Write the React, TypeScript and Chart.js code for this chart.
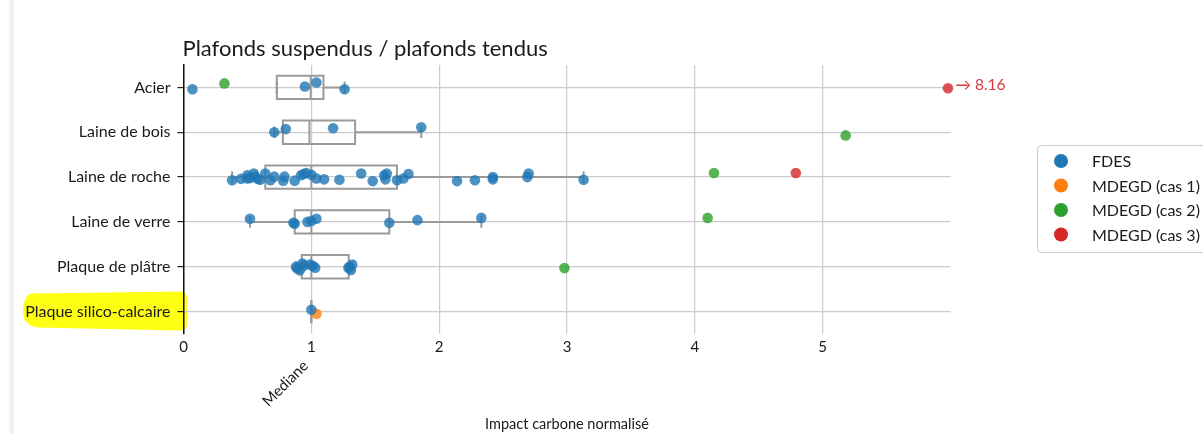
import React, { useEffect, useRef } from 'react';
import { Chart, registerables } from 'chart.js';

Chart.register(...registerables);

// ---------- data ----------
const categories = [
  'Acier',
  'Laine de bois',
  'Laine de roche',
  'Laine de verre',
  'Plaque de plâtre',
  'Plaque silico-calcaire',
];

const chartTitle = 'Plafonds suspendus / plafonds tendus';
const xAxisTitle = 'Impact carbone normalisé';
const xTickValues = [0, 1, 2, 3, 4, 5];
const xTickLabels = ['0', '1', '2', '3', '4', '5'];
const medianTickLabel = 'Mediane';
const X_MAX = 6;

const seriesNames = ['FDES', 'MDEGD (cas 1)', 'MDEGD (cas 2)', 'MDEGD (cas 3)'];
const seriesColors = ['#1f77b4', '#ff7f0e', '#2ca02c', '#d62728'];

// FDES values (normalised by median) and their strip jitter (category units)
const fdesAcier = [0.07, 0.95, 1.04, 1.26];
const fdesAcierJitter = [0.04, -0.02, -0.11, 0.04];

const fdesLaineBois = [0.71, 0.8, 1.17, 1.86];
const fdesLaineBoisJitter = [0.0, -0.07, -0.09, -0.11];

const fdesLaineRoche = [
  0.38, 0.45, 0.5, 0.5, 0.52, 0.55, 0.56, 0.58, 0.6, 0.64, 0.68, 0.71, 0.78, 0.79, 0.87, 0.92, 0.94, 0.96,
  1.0, 1.04, 1.1, 1.22, 1.39, 1.48, 1.57, 1.58, 1.59, 1.67, 1.72, 1.76, 2.14, 2.28, 2.42, 2.42, 2.69, 2.7, 3.13,
];
const fdesLaineRocheJitter = [
  0.07, 0.04, -0.04, 0.03, 0.02, -0.08, -0.01, 0.04, 0.06, -0.08, 0.07, -0.01, 0.08, -0.01, 0.08, -0.04, -0.07, -0.09,
  -0.05, 0.03, 0.05, 0.06, -0.08, 0.09, -0.04, 0.05, -0.08, 0.07, 0.03, -0.07, 0.09, 0.07, 0.0, 0.05, 0.0, -0.08, 0.06,
];

const fdesLaineVerre = [0.52, 0.86, 0.87, 0.97, 1.0, 1.04, 1.61, 1.83, 2.33];
const fdesLaineVerreJitter = [-0.07, 0.02, 0.04, 0.0, -0.02, -0.07, 0.02, -0.04, -0.09];

const fdesPlatre = [0.88, 0.89, 0.91, 0.93, 0.94, 0.99, 1.01, 1.03, 1.29, 1.3, 1.31, 1.32];
const fdesPlatreJitter = [0.0, 0.04, 0.08, -0.07, -0.02, -0.05, -0.02, 0.02, 0.02, 0.0, 0.07, -0.05];

const fdesSilico = [1.0];
const fdesSilicoJitter = [-0.04];

const fdesByCategory = [fdesAcier, fdesLaineBois, fdesLaineRoche, fdesLaineVerre, fdesPlatre, fdesSilico];
const fdesJitterByCategory = [
  fdesAcierJitter,
  fdesLaineBoisJitter,
  fdesLaineRocheJitter,
  fdesLaineVerreJitter,
  fdesPlatreJitter,
  fdesSilicoJitter,
];

// MDEGD points: category index, value, jitter
const mdegd1Category = [5];
const mdegd1Values = [1.04];
const mdegd1Jitter = [0.05];

const mdegd2Category = [0, 1, 2, 3, 4];
const mdegd2Values = [0.32, 5.18, 4.15, 4.1, 2.98];
const mdegd2Jitter = [-0.09, 0.07, -0.09, -0.09, 0.03];

const mdegd3Category = [0, 2];
const mdegd3Values = [8.16, 4.79];
const mdegd3Jitter = [0.02, -0.09];

// ---------- helpers ----------
function rgba(hex: string, a: number) {
  const n = parseInt(hex.slice(1), 16);
  return `rgba(${(n >> 16) & 255},${(n >> 8) & 255},${n & 255},${a})`;
}

function quantile(sorted: number[], p: number) {
  const pos = (sorted.length - 1) * p;
  const lo = Math.floor(pos);
  const hi = Math.ceil(pos);
  return sorted[lo] + (sorted[hi] - sorted[lo]) * (pos - lo);
}

function boxStats(values: number[]) {
  const s = [...values].sort((a, b) => a - b);
  const q1 = quantile(s, 0.25);
  const med = quantile(s, 0.5);
  const q3 = quantile(s, 0.75);
  const iqr = q3 - q1;
  const hiVals = s.filter((v) => v <= q3 + 1.5 * iqr);
  const loVals = s.filter((v) => v >= q1 - 1.5 * iqr);
  let whishi = hiVals.length ? Math.max(...hiVals) : q3;
  let whislo = loVals.length ? Math.min(...loVals) : q1;
  if (whishi < q3) whishi = q3;
  if (whislo > q1) whislo = q1;
  return { q1, med, q3, whislo, whishi };
}

const FONT = 'Lato, "DejaVu Sans", sans-serif';
const TEXT_COLOR = '#1a1a1a';
const GRID_COLOR = '#cccccc';
const BOX_COLOR = '#9a9a9a';

const boxPlugin = {
  id: 'boxes',
  beforeDatasetsDraw(chart: any) {
    const { ctx, scales } = chart;
    const xs = scales.x;
    const ys = scales.y;
    const half = 0.26;
    const capHalf = 0.13;
    ctx.save();
    ctx.strokeStyle = BOX_COLOR;
    ctx.lineWidth = 2;
    fdesByCategory.forEach((vals, i) => {
      if (!vals.length) return;
      const st = boxStats(vals);
      const yT = ys.getPixelForValue(i - half);
      const yB = ys.getPixelForValue(i + half);
      const yC = ys.getPixelForValue(i);
      const cT = ys.getPixelForValue(i - capHalf);
      const cB = ys.getPixelForValue(i + capHalf);
      const x1 = xs.getPixelForValue(st.q1);
      const x3 = xs.getPixelForValue(st.q3);
      const xm = xs.getPixelForValue(st.med);
      const xlo = xs.getPixelForValue(st.whislo);
      const xhi = xs.getPixelForValue(st.whishi);
      ctx.beginPath();
      ctx.rect(x1, yT, x3 - x1, yB - yT);
      ctx.stroke();
      ctx.beginPath();
      ctx.moveTo(xm, yT);
      ctx.lineTo(xm, yB);
      ctx.moveTo(xlo, yC);
      ctx.lineTo(x1, yC);
      ctx.moveTo(x3, yC);
      ctx.lineTo(xhi, yC);
      ctx.moveTo(xlo, cT);
      ctx.lineTo(xlo, cB);
      ctx.moveTo(xhi, cT);
      ctx.lineTo(xhi, cB);
      ctx.stroke();
    });
    ctx.restore();
  },
};

const decorPlugin = {
  id: 'decor',
  beforeDraw(chart: any) {
    const { ctx, scales } = chart;
    ctx.save();
    ctx.fillStyle = '#ffffff';
    ctx.fillRect(0, 0, chart.width, chart.height);
    // notebook cell strip
    ctx.fillStyle = '#edf2f9';
    ctx.fillRect(9, 0, 5, chart.height);
    // yellow highlight behind last category label
    const yc = scales.y.getPixelForValue(categories.length - 1);
    ctx.fillStyle = 'rgba(255,255,0,0.92)';
    ctx.beginPath();
    ctx.moveTo(32, yc - 18);
    ctx.lineTo(182, yc - 20);
    ctx.quadraticCurveTo(188, yc - 19, 187, yc - 10);
    ctx.lineTo(187, yc + 14);
    ctx.quadraticCurveTo(186, yc + 19, 178, yc + 19);
    ctx.lineTo(38, yc + 16);
    ctx.quadraticCurveTo(22, yc + 14, 23, yc - 2);
    ctx.quadraticCurveTo(24, yc - 17, 32, yc - 18);
    ctx.fill();
    ctx.restore();
  },
  afterDraw(chart: any) {
    const { ctx, scales, chartArea } = chart;
    ctx.save();
    // title
    ctx.fillStyle = TEXT_COLOR;
    ctx.font = `22px ${FONT}`;
    ctx.textAlign = 'left';
    ctx.textBaseline = 'alphabetic';
    ctx.fillText(chartTitle, chartArea.left - 1, 56);

    // rotated median label
    ctx.save();
    ctx.translate(scales.x.getPixelForValue(1) - 11, 358);
    ctx.rotate(-Math.PI / 4);
    ctx.font = `15px ${FONT}`;
    ctx.textAlign = 'right';
    ctx.textBaseline = 'top';
    ctx.fillText(medianTickLabel, 0, 0);
    ctx.restore();

    // annotation for clipped value
    const clippedIdx = mdegd3Values.findIndex((v) => v > X_MAX);
    if (clippedIdx >= 0) {
      const y = scales.y.getPixelForValue(mdegd3Category[clippedIdx]);
      ctx.fillStyle = '#d9383a';
      ctx.font = `15.5px ${FONT}`;
      ctx.textAlign = 'left';
      ctx.textBaseline = 'middle';
      ctx.fillText(`→ ${mdegd3Values[clippedIdx].toFixed(2)}`, chartArea.right + 5, y - 2);
    }

    // legend
    const lx = 1037.5;
    const ly = 145.5;
    ctx.strokeStyle = '#cccccc';
    ctx.lineWidth = 1;
    ctx.beginPath();
    ctx.roundRect(lx, ly, 200, 107, 4);
    ctx.stroke();
    ctx.font = `16px ${FONT}`;
    ctx.textAlign = 'left';
    ctx.textBaseline = 'middle';
    seriesNames.forEach((name, i) => {
      const ry = 161 + i * 24.5;
      ctx.fillStyle = seriesColors[i];
      ctx.beginPath();
      ctx.arc(1061, ry, 7, 0, Math.PI * 2);
      ctx.fill();
      ctx.fillStyle = TEXT_COLOR;
      ctx.fillText(name, 1092, ry + 1);
    });
    ctx.restore();
  },
};

function buildPoints(cats: number[], vals: number[], jit: number[]) {
  return vals.map((v, k) => ({ x: Math.min(v, X_MAX - 0.02), y: cats[k] + jit[k] }));
}

export default function App() {
  const canvasRef = useRef<HTMLCanvasElement | null>(null);

  useEffect(() => {
    if (!canvasRef.current) return;

    const fdesPoints: { x: number; y: number }[] = [];
    fdesByCategory.forEach((vals, i) => {
      vals.forEach((v, k) => fdesPoints.push({ x: v, y: i + fdesJitterByCategory[i][k] }));
    });

    const mk = (label: string, color: string, data: any[]) => ({
      label,
      data,
      backgroundColor: rgba(color, 0.8),
      borderWidth: 0,
      pointRadius: 5.3,
      pointHoverRadius: 5.3,
      clip: false as any,
    });

    const chart = new Chart(canvasRef.current, {
      type: 'scatter',
      data: {
        datasets: [
          mk(seriesNames[0], seriesColors[0], fdesPoints),
          mk(seriesNames[1], seriesColors[1], buildPoints(mdegd1Category, mdegd1Values, mdegd1Jitter)),
          mk(seriesNames[2], seriesColors[2], buildPoints(mdegd2Category, mdegd2Values, mdegd2Jitter)),
          mk(seriesNames[3], seriesColors[3], buildPoints(mdegd3Category, mdegd3Values, mdegd3Jitter)),
        ],
      },
      options: {
        responsive: false,
        maintainAspectRatio: false,
        devicePixelRatio: 1,
        animation: false,
        events: [],
        layout: { padding: { left: 0, top: 65, right: 252.5, bottom: 0 } },
        plugins: {
          legend: { display: false },
          tooltip: { enabled: false },
          title: { display: false },
        },
        scales: {
          x: {
            type: 'linear',
            min: 0,
            max: X_MAX,
            afterFit: (s: any) => {
              s.height = 100;
            },
            afterBuildTicks: (s: any) => {
              s.ticks = xTickValues.map((v) => ({ value: v }));
            },
            grid: { color: GRID_COLOR, lineWidth: 1.2, drawTicks: false },
            border: { display: false },
            ticks: {
              padding: 4,
              color: TEXT_COLOR,
              font: { family: FONT, size: 15 },
              maxRotation: 0,
              autoSkip: false,
              callback: (v: any) => xTickLabels[xTickValues.indexOf(Number(v))] ?? '',
            },
            title: {
              display: true,
              text: xAxisTitle,
              color: TEXT_COLOR,
              font: { family: FONT, size: 14.5 },
              padding: { top: 0, bottom: 1 },
            },
          },
          y: {
            type: 'linear',
            reverse: true,
            min: -0.5,
            max: categories.length - 0.5,
            afterFit: (s: any) => {
              s.width = 183.5;
            },
            afterBuildTicks: (s: any) => {
              s.ticks = categories.map((_, i) => ({ value: i }));
            },
            grid: {
              color: GRID_COLOR,
              lineWidth: 1.2,
              drawTicks: true,
              tickLength: 6,
              tickColor: '#222222',
              tickWidth: 1.2,
            },
            border: { display: true, color: '#111111', width: 1.5 },
            ticks: {
              padding: 7,
              color: TEXT_COLOR,
              font: { family: FONT, size: 16 },
              autoSkip: false,
              callback: (v: any) => categories[Number(v)] ?? '',
            },
          },
        },
      },
      plugins: [decorPlugin, boxPlugin],
    });

    return () => chart.destroy();
  }, []);

  return (
    <div
      style={{
        position: 'fixed',
        left: 0,
        top: 0,
        width: 1203,
        height: 434,
        overflow: 'hidden',
        background: '#ffffff',
      }}
    >
      <canvas ref={canvasRef} width={1203} height={434} style={{ display: 'block' }} />
    </div>
  );
}
